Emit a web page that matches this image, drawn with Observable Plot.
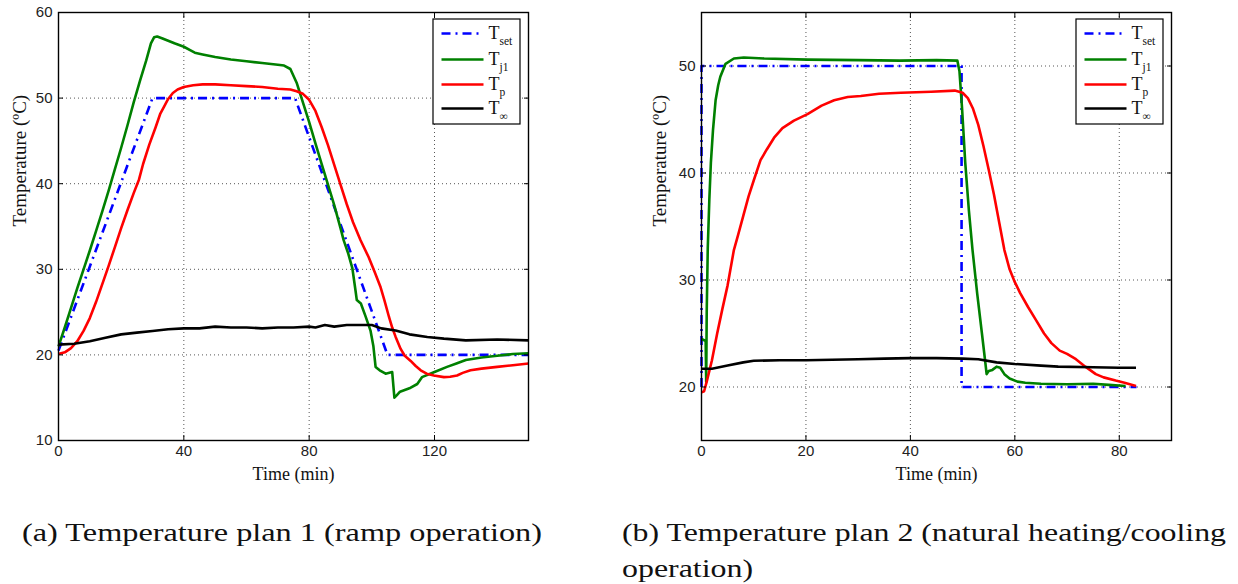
<!DOCTYPE html>
<html>
<head>
<meta charset="utf-8">
<script src="https://cdn.jsdelivr.net/npm/d3@7"></script>
<script src="https://cdn.jsdelivr.net/npm/@observablehq/plot@0.6"></script>
<style>
  html, body { margin: 0; padding: 0; background: #fff; }
  #page { position: relative; width: 1238px; height: 584px; overflow: hidden; background: #fff; }
  .chart { position: absolute; top: 0; }
  .overlay { position: absolute; left: 0; top: 0; }
</style>
</head>
<body>
<div id="page">
  <div id="left" class="chart" style="left:0px"></div>
  <div id="right" class="chart" style="left:640px"></div>
</div>
<script>
// ---------- Data: plan 1 (ramp operation) ----------
const p1_Tset = [[0,20.5],[30,50],[75.5,50],[105,20],[150,20]];
const p1_Tj1 = [[0,21],[2,23.2],[4,25.5],[6,27.8],[8,30],[10,32.2],[12,34.5],[14,36.8],[16,39.2],[18,41.7],[20,44.2],[22,46.8],[24,49.5],[26,52],[28,54.4],[29.5,56.4],[30.5,57.1],[31.5,57.2],[33,57],[35,56.7],[37,56.4],[40,56],[42,55.6],[43.5,55.3],[46,55.1],[50,54.8],[55,54.5],[60,54.3],[65,54.1],[70,53.9],[72,53.8],[74,53.4],[76,51.8],[78,49.5],[80,47.2],[82,44.7],[84,42.3],[86,39.9],[88,37.5],[90,34.8],[91,33.4],[92.5,31.8],[93.8,30.1],[94.8,27.5],[95.2,26.4],[96.5,26],[98,24.5],[99.6,22.8],[100.5,21],[101.2,18.6],[102.5,18.2],[104.4,17.8],[106.5,18.0],[107.2,15.0],[108,15.3],[109,15.7],[112,16.1],[114.5,16.6],[116,17.4],[120,18.0],[124,18.6],[127,19.0],[130,19.4],[135,19.7],[140,19.9],[145,20.1],[150,20.2]];
const p1_Tp = [[0,20.1],[2,20.3],[4,20.8],[6,21.6],[8,22.8],[10,24.3],[12,26.2],[14,28.3],[16,30.4],[18,32.6],[20,34.8],[22,36.9],[24,38.9],[25.7,40.5],[27,42.3],[29,44.6],[31,46.6],[32.5,48.2],[33.7,49.0],[35,49.9],[36.5,50.6],[38,51.0],[40,51.3],[43,51.5],[46,51.6],[50,51.6],[55,51.5],[60,51.4],[65,51.3],[70,51.1],[74,51.0],[76,50.8],[78,50.5],[80,49.8],[82,48.5],[84,46.6],[86,44.5],[88,42.2],[90,39.9],[92,37.6],[94,35.5],[96.4,33.4],[99,31.4],[101,29.6],[102.8,27.9],[104,26.4],[105.5,24.4],[106.5,23.2],[107.6,22.1],[109.2,20.7],[110.5,19.9],[112.4,19.3],[114,18.7],[115.6,18.2],[117.5,17.8],[119.8,17.6],[123,17.4],[125,17.45],[127.2,17.6],[129,17.9],[131.5,18.2],[135,18.4],[140,18.6],[145,18.8],[150,19.0]];
const p1_Tinf = [[0,21.2],[5,21.3],[10,21.6],[15,22.0],[20,22.4],[25,22.6],[30,22.8],[35,23.0],[40,23.1],[45,23.1],[50,23.3],[55,23.2],[60,23.2],[65,23.1],[70,23.2],[75,23.2],[80,23.3],[82,23.2],[85,23.5],[88,23.3],[92,23.5],[98,23.5],[100,23.5],[103,23.1],[107.6,22.85],[112,22.4],[117.7,22.1],[123,21.9],[130,21.7],[140,21.8],[150,21.7]];

// ---------- Data: plan 2 (natural heating/cooling) ----------
const p2_Tset = [[0,20],[0,50],[49.8,50],[49.8,20],[83.3,20]];
const p2_Tj1 = [[0,24.5],[0.8,24.3],[0.9,20.5],[1.0,27],[1.2,33],[1.5,37.5],[1.8,41],[2.2,44],[2.7,46.8],[3.2,48.2],[3.6,49.0],[4.6,50.2],[6.2,50.7],[8.1,50.8],[12,50.7],[20.3,50.6],[30,50.55],[38,50.5],[45,50.55],[49,50.5],[49.4,49.5],[49.9,46],[50.5,41],[51.2,36.5],[51.9,32.8],[52.8,28.7],[53.7,25],[54.3,22.5],[54.6,21.2],[55,21.5],[55.7,21.6],[56.5,21.9],[57.2,21.8],[58,21.2],[59,20.8],[60.5,20.5],[62,20.4],[65,20.3],[70,20.25],[75,20.3],[78,20.2],[81.2,20.1]];
const p2_Tp = [[0,19.5],[0.5,19.6],[1,20.5],[2,22.5],[3,25],[4,27.3],[5,29.5],[6.2,32.8],[7,34.2],[8,36],[9,37.8],[10,39.3],[11.3,41.2],[12.5,42.2],[13.9,43.3],[15.5,44.2],[17.7,44.9],[20.3,45.5],[23,46.3],[25.4,46.8],[28,47.1],[30.5,47.2],[34,47.4],[38.2,47.5],[44,47.6],[48.5,47.7],[50,47.5],[51,47],[52,46],[53,44.5],[54,42.5],[55,40.3],[56,38],[57,35.4],[58,32.8],[59,31],[60,29.8],[61,28.8],[62.5,27.5],[64,26.3],[65.6,25],[67,24.1],[68.6,23.4],[70,23.1],[71.7,22.6],[73.5,21.9],[75.5,21.2],[77,20.9],[79.3,20.6],[81,20.4],[83.2,20.1]];
const p2_Tinf = [[0,21.7],[2,21.7],[5,22],[8,22.3],[10,22.45],[15,22.5],[20,22.5],[25,22.55],[30,22.6],[35,22.65],[40,22.7],[45,22.7],[50,22.65],[53,22.6],[56.5,22.3],[60,22.15],[65,22.0],[68.3,21.9],[75,21.85],[80,21.8],[83.2,21.8]];

// ---------- Tick labels / text ----------
const p1_xTicks = [0, 40, 80, 120];
const p1_yTicks = [10, 20, 30, 40, 50, 60];
const p2_xTicks = [0, 20, 40, 60, 80];
const p2_yTicks = [20, 30, 40, 50];
const xTitle = "Time (min)";
const yTitle = "Temperature (ºC)";
const legendNames = [["T", "set"], ["T", "j1"], ["T", "p"], ["T", "∞"]];
const captionA = "(a) Temperature plan 1 (ramp operation)";
const captionB1 = "(b) Temperature plan 2 (natural heating/cooling";
const captionB2 = "operation)";

const colors = ["#0000ff", "#008000", "#ff0000", "#000000"];
const dashes = ["9,5,2,5", null, null, null];
const serif = "'Liberation Serif', 'Times New Roman', Times, serif";

function chart({xDomain, yDomain, xTicks, yTicks, marginLeft, width, series}) {
  const gridStyle = {stroke: "#444", strokeOpacity: 0.9, strokeWidth: 1, strokeDasharray: "1,3"};
  return Plot.plot({
    width, height: 490,
    marginTop: 12, marginBottom: 50, marginLeft, marginRight: width - marginLeft - 470,
    x: {domain: xDomain},
    y: {domain: yDomain},
    style: {fontFamily: "'Liberation Sans', Arial, sans-serif", fontSize: "15px", color: "#222", background: "white", overflow: "visible"},
    marks: [
      Plot.gridX(xTicks, gridStyle),
      Plot.gridY(yTicks, gridStyle),
      ...series.map((s, i) => Plot.line(s, {
        x: d => d[0], y: d => d[1],
        stroke: colors[i], strokeWidth: 2.6,
        strokeDasharray: dashes[i] ?? undefined,
        strokeLinejoin: "round", strokeLinecap: "butt"
      })),
      Plot.frame({stroke: "black", strokeWidth: 1.4}),
      Plot.axisX(xTicks, {anchor: "bottom", tickSize: 5, dy: -5, text: null, label: null, stroke: "black"}),
      Plot.axisX(xTicks, {anchor: "top", tickSize: 5, dy: 5, text: null, label: null, stroke: "black"}),
      Plot.axisY(yTicks, {anchor: "left", tickSize: 5, dx: 5, text: null, label: null, stroke: "black"}),
      Plot.axisY(yTicks, {anchor: "right", tickSize: 5, dx: -5, text: null, label: null, stroke: "black"}),
      Plot.axisX(xTicks, {anchor: "bottom", tickSize: 0, tickPadding: 5, label: null, fill: "#222"}),
      Plot.axisY(yTicks, {anchor: "left", tickSize: 0, tickPadding: 6, label: null, fill: "#222"}),
      Plot.text([xTitle], {frameAnchor: "bottom", dy: 34, lineAnchor: "middle", fontFamily: serif, fontSize: 18, fill: "#111"}),
      Plot.text([yTitle], {frameAnchor: "left", dx: -(marginLeft - 19), rotate: -90, fontFamily: serif, fontSize: 19, fill: "#111"})
    ]
  });
}

const left = chart({
  xDomain: [0, 150], yDomain: [10, 60], xTicks: p1_xTicks, yTicks: p1_yTicks,
  marginLeft: 58, width: 540, series: [p1_Tset, p1_Tj1, p1_Tp, p1_Tinf]
});
document.getElementById("left").appendChild(left);

const right = chart({
  xDomain: [0, 90], yDomain: [15, 55], xTicks: p2_xTicks, yTicks: p2_yTicks,
  marginLeft: 61, width: 543, series: [p2_Tset, p2_Tj1, p2_Tp, p2_Tinf]
});
document.getElementById("right").appendChild(right);

// ---------- Overlay: legends and captions ----------
const page = d3.select("#page");
const ov = page.append("svg").attr("class", "overlay").attr("width", 1238).attr("height", 584);

function legend(x0, y0) {
  const g = ov.append("g").attr("transform", `translate(${x0},${y0})`);
  g.append("rect").attr("x", 0.5).attr("y", 0.5).attr("width", 87).attr("height", 105)
    .attr("fill", "white").attr("stroke", "black").attr("stroke-width", 1.2);
  const rows = [15, 41, 66, 90];
  legendNames.forEach(([main, sub], i) => {
    const y = rows[i];
    g.append("line").attr("x1", 9).attr("x2", 51).attr("y1", y).attr("y2", y)
      .attr("stroke", colors[i]).attr("stroke-width", 2.6)
      .attr("stroke-dasharray", dashes[i]);
    const t = g.append("text").attr("x", 56).attr("y", y + 5)
      .attr("font-family", serif).attr("font-size", 18).attr("fill", "#111");
    t.append("tspan").text(main);
    t.append("tspan").attr("font-size", 11.5).attr("dy", 6).text(sub);
  });
}
legend(432.5, 18.5);
legend(1075.5, 18.5);

function caption(text, x, y, len) {
  ov.append("text").attr("x", x).attr("y", y)
    .attr("font-family", serif).attr("font-size", 25).attr("fill", "#111")
    .attr("textLength", len).attr("lengthAdjust", "spacingAndGlyphs")
    .text(text);
}
caption(captionA, 22, 541, 520);
caption(captionB1, 622, 541, 604);
caption(captionB2, 622, 577, 131);
</script>
</body>
</html>
